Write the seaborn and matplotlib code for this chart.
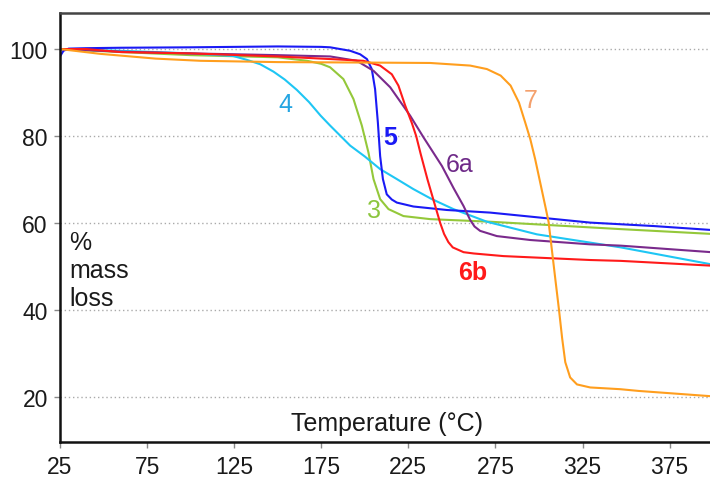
import pandas as pd
import matplotlib
matplotlib.use('Agg')
import matplotlib.pyplot as plt
import seaborn as sns

# TGA curves: temperature (°C) and % mass
temp_3 = [25, 50, 100, 150, 166.9, 175, 180.1, 187.7, 193.5, 198.3, 202.1, 205, 208.8, 213.6, 222.2, 237.5, 272, 329.4, 347, 399]
mass_3 = [100, 99.5, 98.6, 98.1, 97.3, 96.6, 95.8, 93.1, 88.5, 82.4, 76.2, 70.1, 65.5, 63.2, 61.6, 60.9, 60.3, 59.0, 58.6, 57.5]

temp_4 = [25, 60, 100, 124.5, 132.4, 140, 147.6, 154, 161, 168, 174.6, 180.1, 191.6, 200, 208.8, 218, 227.9, 238, 250.9, 270.1, 298.8, 329.4, 347, 399]
mass_4 = [100, 99.6, 99, 98.4, 97.5, 96.5, 94.8, 93, 90.6, 87.8, 84.7, 82.4, 77.8, 75.3, 72.4, 70.2, 67.8, 65.6, 63.2, 60.3, 57.4, 55.5, 54.4, 50.5]

temp_5 = [25, 27, 30, 40, 60, 100, 150, 175, 180.1, 191.6, 197.3, 201.2, 204, 205.9, 207.5, 208.8, 210.4, 212.6, 215.5, 218.4, 227.9, 247.1, 272, 329.4, 366.2, 399]
mass_5 = [98.3, 99.6, 100.1, 100.2, 100.3, 100.4, 100.6, 100.5, 100.4, 99.6, 98.8, 97.7, 95.4, 90.8, 83.1, 75.4, 70.1, 66.6, 65.4, 64.7, 63.8, 63.0, 62.4, 60.1, 59.3, 58.4]

temp_6a = [25, 60, 100, 150, 180.1, 195.4, 205, 214.6, 226, 233.7, 244.3, 251, 256.7, 260.5, 263, 266.2, 275.8, 295, 329.4, 347, 399]
mass_6a = [100, 99.4, 99, 98.6, 98.3, 97.3, 95, 91.2, 84.7, 79.7, 73.1, 68, 63.9, 60.7, 59.2, 58.2, 57, 56.1, 55.1, 54.8, 53.3]

temp_6b = [25, 40, 60, 100, 150, 180.1, 199.2, 208.8, 215.5, 219.3, 223.2, 227, 229.5, 232, 236, 240, 243.3, 245.5, 248, 250.5, 256.7, 262.6, 279.6, 329.4, 347, 399]
mass_6b = [100, 100, 99.3, 99, 98.3, 97.7, 97.3, 96.2, 94.2, 91.6, 87, 83, 80, 76, 70, 64.5, 60, 57.5, 55.6, 54.4, 53.3, 53, 52.4, 51.5, 51.3, 50.2]

temp_7 = [25, 48, 80, 105.6, 150, 197.6, 237.5, 260.5, 270.1, 278, 283.7, 288.5, 292.1, 295, 297.8, 300.7, 303.6, 305.5, 307.5, 309.5, 311.5, 313.3, 315.1, 317.9, 321.8, 329.4, 346.7, 357.2, 398.3]
mass_7 = [100, 98.9, 97.8, 97.3, 97, 96.9, 96.8, 96.2, 95.4, 93.9, 91.6, 87.7, 83.1, 79.3, 74.7, 69.3, 63.9, 60.3, 53.5, 46.7, 40, 33.5, 28, 24.5, 22.9, 22.2, 21.8, 21.4, 20.2]

curve_names = ['3', '4', '5', '6a', '6b', '7']
curve_temps = [temp_3, temp_4, temp_5, temp_6a, temp_6b, temp_7]
curve_masses = [mass_3, mass_4, mass_5, mass_6a, mass_6b, mass_7]

line_colors = {'3': '#94c83a', '4': '#1ec6f4', '5': '#1a1af5',
               '6a': '#7a2a8c', '6b': '#ff1a1a', '7': '#ff9e1e'}
label_colors = {'3': '#8cc63f', '4': '#25a5e2', '5': '#1a1af5',
                '6a': '#6e2a88', '6b': '#ff1a1a', '7': '#f4a06c'}
# label positions (temperature, mass)
label_pos = {'3': (205.0, 62.9), '4': (154.2, 87.4), '5': (214.5, 79.7),
             '6a': (254.2, 73.6), '6b': (262.2, 48.7), '7': (295.0, 88.2)}

frames = []
for name, t, m in zip(curve_names, curve_temps, curve_masses):
    frames.append(pd.DataFrame({'Temperature': t, 'Mass': m, 'Sample': name}))
tga_df = pd.concat(frames, ignore_index=True)

sns.set_style('white')
plt.rcParams['font.family'] = ['Liberation Sans', 'DejaVu Sans']

fig = plt.figure(figsize=(7.1, 4.81), dpi=100)
ax = fig.add_axes([0.0845, 0.079, 0.9175, 0.892])

# dotted gridlines first so curves sit on top
for g in [20, 40, 60, 80, 100]:
    ax.axhline(g, color='#aaaaaa', lw=1.0, linestyle=(0, (1, 2)), zorder=0)

sns.lineplot(data=tga_df, x='Temperature', y='Mass', hue='Sample',
             palette=line_colors, linewidth=1.5, legend=False, ax=ax)

for name in curve_names:
    x, y = label_pos[name]
    wt = 'bold' if name in ['5', '6b'] else 'normal'
    ax.text(x, y, name, color=label_colors[name], fontsize=18, fontweight=wt,
            ha='center', va='center')

ax.text(212.8, 12.4, 'Temperature (°C)', fontsize=18, ha='center', va='baseline',
        color='#1a1a1a')
ax.text(30.5, 41.2, '%\nmass\nloss', fontsize=18, ha='left', va='baseline',
        linespacing=1.2, color='#1a1a1a')

ax.set_xlim(25, 399)
ax.set_ylim(9.66, 108.3)
ax.set_xticks([25, 75, 125, 175, 225, 275, 325, 375])
ax.set_yticks([20, 40, 60, 80, 100])
ax.set_xlabel('')
ax.set_ylabel('')
ax.tick_params(axis='both', direction='out', length=4.3, width=1, color='#888888',
               labelsize=16.5, labelcolor='#1a1a1a', bottom=True, left=True)
ax.tick_params(axis='x', pad=5)
ax.tick_params(axis='y', pad=4.5)

for side in ['left', 'bottom']:
    ax.spines[side].set_color('#111111')
    ax.spines[side].set_linewidth(1.8)
ax.spines['top'].set_color('#444444')
ax.spines['top'].set_linewidth(1.8)
ax.spines['right'].set_visible(False)

plt.savefig('out.png', dpi=100)
